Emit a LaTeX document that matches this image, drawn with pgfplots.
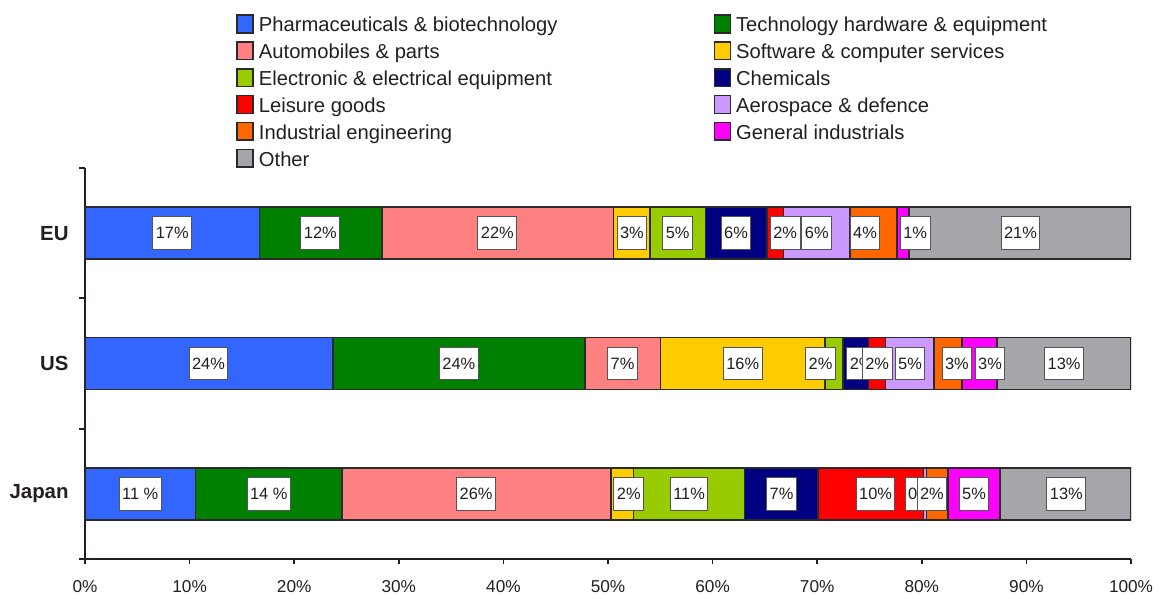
\documentclass[border=0pt]{standalone}
\usepackage{pgfplots}
\pgfplotsset{compat=1.18}
\usepackage{fontspec}
\setmainfont{Liberation Sans}
\definecolor{cPharma}{HTML}{3366FF}
\definecolor{cTech}{HTML}{008000}
\definecolor{cAuto}{HTML}{FF8080}
\definecolor{cSoft}{HTML}{FFCC00}
\definecolor{cElec}{HTML}{99CC00}
\definecolor{cChem}{HTML}{000080}
\definecolor{cLeis}{HTML}{FF0000}
\definecolor{cAero}{HTML}{CC99FF}
\definecolor{cInd}{HTML}{FF6600}
\definecolor{cGen}{HTML}{FF00FF}
\definecolor{cOth}{HTML}{A6A6AA}
\definecolor{edge}{HTML}{2A2A2A}
\definecolor{axcol}{HTML}{231F20}
\definecolor{labbord}{HTML}{555555}
\begin{document}
\begin{tikzpicture}
\useasboundingbox (-42.5pt,-20pt) rectangle (538pt,279.5pt);
\begin{axis}[
  at={(0pt,0pt)}, anchor=south west,
  scale only axis, width=523pt, height=195.5pt,
  xbar stacked, bar width=26pt,
  xmin=0, xmax=100, ymin=-0.5, ymax=2.5,
  axis lines*=left,
  axis line style={line width=1.3pt, draw=axcol, -},
  tick align=outside,
  ytick={0,1,2}, yticklabels={Japan,US,EU},
  minor ytick={-0.5,0.5,1.5,2.5},
  major y tick style={draw=none},
  minor y tick style={draw=axcol, line width=1pt},
  minor tick length=3pt,
  xtick={0,10,...,100},
  major x tick style={draw=axcol, line width=0.8pt},
  major tick length=2.5pt,
  xticklabel={\pgfmathprintnumber{\tick}\%},
  /pgf/number format/assume math mode=true,
  xticklabel style={font=\fontsize{8.6}{10}\selectfont, text=axcol, yshift=-4.8pt},
  yticklabel style={font=\fontsize{10.2}{12}\selectfont\bfseries, text=axcol, xshift=-2.2pt},
  every axis plot/.append style={draw=edge, line width=0.75pt},
  legend columns=2,
  legend style={at={(0.1444,1.3939)}, anchor=north west, draw=none, fill=none,
    inner sep=0pt, font=\fontsize{10.1}{12}\selectfont, text=axcol,
    cells={anchor=base west},
    nodes={inner sep=0pt, text height=7.5pt, text depth=2.2pt},
    row sep=2.5pt,
    /tikz/every odd column/.append style={column sep=2.5pt},
    /tikz/every even column/.append style={column sep=78pt}},
  legend image code/.code={\draw[#1] (0pt,-0.5pt) rectangle (8pt,8.35pt);},
]
\addplot[fill=cPharma] coordinates {(16.69,2) (23.70,1) (10.55,0)};
\addlegendentry{Pharmaceuticals \& biotechnology}
\addplot[fill=cTech] coordinates {(11.68,2) (24.10,1) (14.00,0)};
\addlegendentry{Technology hardware \& equipment}
\addplot[fill=cAuto] coordinates {(22.14,2) (7.24,1) (25.74,0)};
\addlegendentry{Automobiles \& parts}
\addplot[fill=cSoft] coordinates {(3.51,2) (15.71,1) (2.16,0)};
\addlegendentry{Software \& computer services}
\addplot[fill=cElec] coordinates {(5.32,2) (1.71,1) (10.61,0)};
\addlegendentry{Electronic \& electrical equipment}
\addplot[fill=cChem] coordinates {(5.86,2) (2.46,1) (7.01,0)};
\addlegendentry{Chemicals}
\addplot[fill=cLeis] coordinates {(1.59,2) (1.63,1) (10.07,0)};
\addlegendentry{Leisure goods}
\addplot[fill=cAero] coordinates {(6.35,2) (4.62,1) (0.30,0)};
\addlegendentry{Aerospace \& defence}
\addplot[fill=cInd] coordinates {(4.47,2) (2.67,1) (2.07,0)};
\addlegendentry{Industrial engineering}
\addplot[fill=cGen] coordinates {(1.17,2) (3.33,1) (4.96,0)};
\addlegendentry{General industrials}
\addplot[fill=cOth] coordinates {(21.22,2) (12.83,1) (12.53,0)};
\addlegendentry{Other}
\end{axis}
\begin{axis}[
  at={(0pt,0pt)}, anchor=south west,
  scale only axis, width=523pt, height=195.5pt,
  xmin=0, xmax=100, ymin=-0.5, ymax=2.5, hide axis, clip=false]
\addplot[only marks, mark=none, nodes near coords, point meta=explicit symbolic,
  every node near coord/.style={anchor=center, fill=white, draw=labbord, line width=0.5pt,
    inner xsep=1.5pt, inner ysep=0pt, minimum height=16.4pt,
    font=\fontsize{8.2}{9.8}\selectfont, text=axcol}]
coordinates {
(8.34,2) [17\%] (11.80,1) [24\%] (5.28,0) [11 \%]
(22.50,2) [12\%] (35.74,1) [24\%] (17.57,0) [14 \%]
(39.42,2) [22\%] (51.39,1) [7\%] (37.39,0) [26\%]
(52.29,2) [3\%] (62.88,1) [16\%] (51.99,0) [2\%]
(56.66,2) [5\%] (70.32,1) [2\%] (57.75,0) [11\%]
(62.24,2) [6\%] (74.25,1) [2\%] (66.59,0) [7\%]
(66.94,2) [2\%] (75.73,1) [2\%] (75.58,0) [10\%]
(69.96,2) [6\%] (78.87,1) [5\%] (79.83,0) [0\%]
(74.57,2) [4\%] (83.35,1) [3\%] (80.97,0) [2\%]
(79.37,2) [1\%] (86.52,1) [3\%] (84.99,0) [5\%]
(89.43,2) [21\%] (93.60,1) [13\%] (93.82,0) [13\%]
};
\end{axis}
\end{tikzpicture}
\end{document}
